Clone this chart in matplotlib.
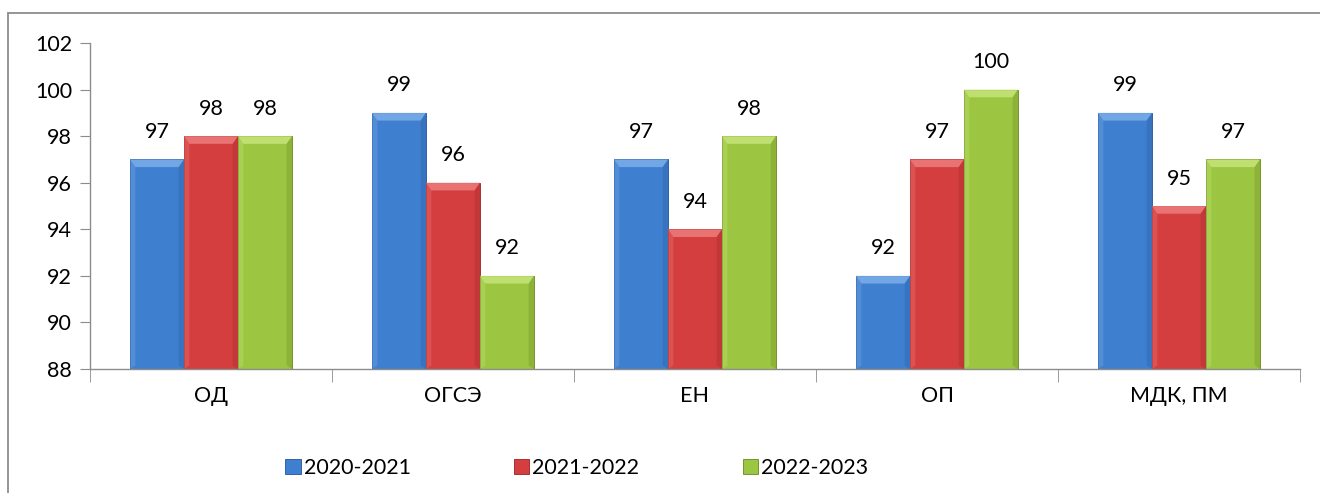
import matplotlib
matplotlib.use('Agg')
import matplotlib.pyplot as plt
from matplotlib.patches import Polygon, Rectangle
import numpy as np

plt.rcParams['font.family'] = ['Lato', 'DejaVu Sans']

categories = ['ОД', 'ОГСЭ', 'ЕН', 'ОП', 'МДК, ПМ']
years = ['2020-2021', '2021-2022', '2022-2023']
vals_2020 = [97, 99, 97, 92, 99]
vals_2021 = [98, 96, 94, 97, 95]
vals_2022 = [98, 92, 98, 100, 97]
series = [vals_2020, vals_2021, vals_2022]

# face, light bevel, dark edge
colors = [('#3f7fcf', '#7fb0ea', '#2f63a8'),
          ('#d43e3e', '#ef8080', '#a83030'),
          ('#9cc641', '#c8e77e', '#76962c')]

fig = plt.figure(figsize=(13.2, 4.93), dpi=100)
ax = fig.add_axes([90 / 1320, 1 - 369 / 493, 1210 / 1320, 326 / 493])

# chart border
fig.patches.append(Rectangle((8 / 1320, -0.02), 1.05, 1 - 13 / 493 + 0.02,
                             transform=fig.transFigure, fill=False,
                             edgecolor='#8c8c8c', linewidth=1.3))

x = np.arange(len(categories))
w = 0.223
ymin = 88
bev_y = 0.33
bev_x = 0.022

for i, vals in enumerate(series):
    face, light, dark = colors[i]
    bars = ax.bar(x + (i - 1) * w, [v - ymin for v in vals], w, bottom=ymin,
                  color=face, edgecolor=dark, linewidth=0.7, zorder=2,
                  label=years[i])
    for b, v in zip(bars, vals):
        x0, x1 = b.get_x(), b.get_x() + b.get_width()
        top = v
        # top bevel
        ax.add_patch(Polygon([(x0, top), (x1, top), (x1 - bev_x, top - bev_y),
                              (x0 + bev_x, top - bev_y)],
                             closed=True, facecolor=light, edgecolor='none',
                             alpha=0.8, zorder=3))
        # left strip
        ax.add_patch(Polygon([(x0, top), (x0 + bev_x, top - bev_y),
                              (x0 + bev_x, ymin + 0.15), (x0, ymin)],
                             closed=True, facecolor=light, edgecolor='none',
                             alpha=0.3, zorder=3))
        # right strip
        ax.add_patch(Polygon([(x1, top), (x1 - bev_x, top - bev_y),
                              (x1 - bev_x, ymin + 0.15), (x1, ymin)],
                             closed=True, facecolor=dark, edgecolor='none',
                             alpha=0.4, zorder=3))
        ax.text(b.get_x() + b.get_width() / 2, v + 0.75, str(v),
                ha='center', va='bottom', fontsize=15.5, color='black')

ax.set_xlim(-0.5, len(categories) - 0.5)
ax.set_ylim(88, 102)
ax.set_yticks(range(88, 103, 2))
ax.tick_params(axis='y', labelsize=15.5, length=7, color='#8c8c8c', pad=6)
ax.set_xticks(x)
ax.set_xticklabels(categories, fontsize=15.5)
ax.tick_params(axis='x', length=0, pad=12)
ax.set_xticks(np.arange(-0.5, len(categories), 1), minor=True)
ax.tick_params(axis='x', which='minor', length=9, color='#8c8c8c')
for s in ['top', 'right']:
    ax.spines[s].set_visible(False)
for s in ['left', 'bottom']:
    ax.spines[s].set_color('#8c8c8c')
    ax.spines[s].set_linewidth(1.0)

fig.legend(loc='center', bbox_to_anchor=(0.437, 1 - 468 / 493), ncol=3,
           frameon=False, fontsize=15.5, handlelength=0.7, handleheight=0.7,
           handletextpad=0.15, columnspacing=4.8)

fig.savefig('out.png', dpi=100)
